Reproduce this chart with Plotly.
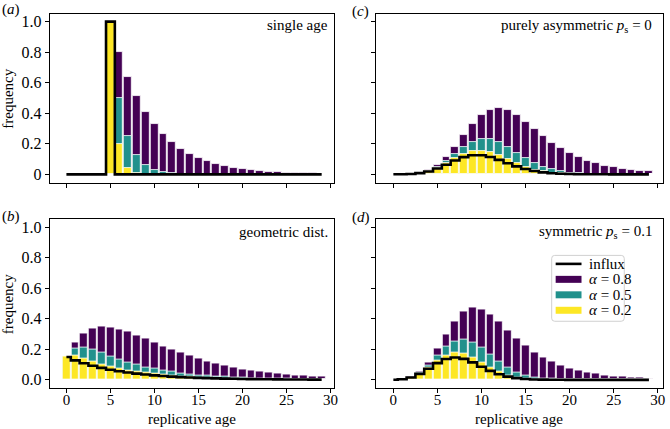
import plotly.graph_objects as go

ages = list(range(30))

# ---- panel (a): single age ----
a_influx = [0, 0, 0, 0, 0, 1.0] + [0] * 24
a_a08 = [0, 0, 0, 0, 0, 1.0, 0.8, 0.64, 0.512, 0.41, 0.328, 0.262, 0.21, 0.168, 0.134,
         0.107, 0.086, 0.069, 0.055, 0.044, 0.035, 0.028, 0.023, 0.018, 0.014, 0.012,
         0.009, 0.007, 0.006, 0.005]
a_a05 = [0, 0, 0, 0, 0, 1.0, 0.5, 0.25, 0.125, 0.063, 0.031, 0.016, 0.008, 0.004, 0.002,
         0.001] + [0] * 14
a_a02 = [0, 0, 0, 0, 0, 1.0, 0.2, 0.04, 0.008, 0.002, 0.0003] + [0] * 19

# ---- panel (b): geometric dist. ----
b_influx = [0.150, 0.1275, 0.1084, 0.0921, 0.0783, 0.0666, 0.0566, 0.0481, 0.0409, 0.0347,
            0.0295, 0.0251, 0.0213, 0.0181, 0.0154, 0.0131, 0.0111, 0.0095, 0.0080, 0.0068,
            0.0058, 0.0049, 0.0042, 0.0036, 0.0030, 0.0026, 0.0022, 0.0019, 0.0016, 0.0014]
b_a08 = [0.150, 0.2475, 0.3063, 0.3372, 0.348, 0.345, 0.3327, 0.3141, 0.2922, 0.2685,
         0.2442, 0.2205, 0.1977, 0.1764, 0.1566, 0.1386, 0.1218, 0.1068, 0.0936, 0.0819,
         0.0711, 0.0618, 0.0537, 0.0465, 0.0402, 0.0348, 0.030, 0.0261, 0.0225, 0.0192]
b_a05 = [0.150, 0.2025, 0.2096, 0.1969, 0.1768, 0.1549, 0.1341, 0.1151, 0.0984, 0.0840,
         0.0715, 0.0608, 0.0518, 0.0441, 0.0375, 0.0318, 0.0270, 0.0230, 0.0195, 0.0166,
         0.0141, 0.0120, 0.0102, 0.0087, 0.0074, 0.0063, 0.0053, 0.0045, 0.0039, 0.0033]
b_a02 = [0.150, 0.1575, 0.1399, 0.1201, 0.1023, 0.0870, 0.0740, 0.0629, 0.0535, 0.0454,
         0.0386, 0.0328, 0.0279, 0.0237, 0.0202, 0.0171, 0.0146, 0.0124, 0.0105, 0.0090,
         0.0076, 0.0065, 0.0055, 0.0047, 0.0040, 0.0034, 0.0029, 0.0024, 0.0021, 0.0018]

# ---- panel (c): purely asymmetric p_s = 0 ----
c_influx = [0.00005, 0.0005, 0.0023, 0.0076, 0.0189, 0.0378, 0.0631, 0.0901, 0.1126, 0.1251,
            0.1251, 0.1137, 0.0948, 0.0729, 0.0521, 0.0347, 0.0217, 0.0128, 0.0071, 0.0037,
            0.0019, 0.0009, 0.0004, 0.0002, 0.0001, 0, 0, 0, 0, 0]
c_a08 = [0.00005, 0.0005, 0.0027, 0.0097, 0.0267, 0.0592, 0.1105, 0.1785, 0.2554, 0.3294,
         0.3886, 0.4246, 0.4345, 0.4205, 0.3885, 0.3455, 0.2981, 0.2513, 0.2081, 0.1702,
         0.1381, 0.1114, 0.0895, 0.0718, 0.0575, 0.046, 0.0368, 0.0294, 0.0235, 0.0188]
c_a05 = [0.00005, 0.0005, 0.0025, 0.0088, 0.0233, 0.0495, 0.0878, 0.1340, 0.1796, 0.2149,
         0.2325, 0.2300, 0.2098, 0.1778, 0.1410, 0.1052, 0.0743, 0.0500, 0.0321, 0.0197,
         0.0118, 0.0068, 0.0038, 0.0021, 0.0012, 0.0006, 0.0003, 0.0002, 0.0001, 0.0001]
c_a02 = [0.00005, 0.0005, 0.0024, 0.0080, 0.0205, 0.0419, 0.0715, 0.1044, 0.1335, 0.1518,
         0.1555, 0.1448, 0.1238, 0.0977, 0.0716, 0.0490, 0.0315, 0.0191, 0.0109, 0.0059,
         0.0031, 0.0015, 0.0007, 0.0003, 0.0001, 0, 0, 0, 0, 0]

# ---- panel (d): symmetric p_s = 0.1 ----
d_influx = [0.0006, 0.0041, 0.0156, 0.0389, 0.0729, 0.1094, 0.1367, 0.1465, 0.1373, 0.1144,
            0.0858, 0.0585, 0.0366, 0.0211, 0.0113, 0.0057, 0.0026, 0.0012, 0.0005, 0.0002,
            0.0001, 0, 0, 0, 0, 0, 0, 0, 0, 0]
d_a08 = [0.0006, 0.0046, 0.0193, 0.0543, 0.1163, 0.2024, 0.2986, 0.3854, 0.4456, 0.4709,
         0.4625, 0.4285, 0.3794, 0.3246, 0.2710, 0.2225, 0.1806, 0.1457, 0.1171, 0.0939,
         0.0752, 0.0602, 0.0481, 0.0385, 0.0308, 0.0246, 0.0197, 0.0158, 0.0126, 0.0101]
d_a05 = [0.0006, 0.0044, 0.0178, 0.0478, 0.0968, 0.1578, 0.2156, 0.2543, 0.2645, 0.2466,
         0.2091, 0.1631, 0.1181, 0.0802, 0.0514, 0.0314, 0.0183, 0.0104, 0.0057, 0.0030,
         0.0016, 0.0008, 0.0004, 0.0002, 0.0001, 0, 0, 0, 0, 0]
d_a02 = [0.0006, 0.0042, 0.0164, 0.0422, 0.0813, 0.1257, 0.1618, 0.1789, 0.1731, 0.1490,
         0.1156, 0.0816, 0.0529, 0.0317, 0.0176, 0.0092, 0.0044, 0.0021, 0.0009, 0.0004,
         0.0002, 0.0001, 0, 0, 0, 0, 0, 0, 0, 0]

yticks = [0, 0.2, 0.4, 0.6, 0.8, 1.0]
yticktext_a = ["0", "0.2", "0.4", "0.6", "0.8", "1.0"]
yticktext_b = ["0.0", "0.2", "0.4", "0.6", "0.8", "1.0"]
xticks = [0, 5, 10, 15, 20, 25, 30]

legend_labels = ["influx", "<i>α</i> = 0.8", "<i>α</i> = 0.5", "<i>α</i> = 0.2"]

PURPLE = "#440154"
TEAL = "#21918c"
YELLOW = "#fde725"
FONT = "Liberation Serif"
W, H = 670, 429

panels = [
    ("x", "y", a_influx, a_a08, a_a05, a_a02),
    ("x2", "y2", c_influx, c_a08, c_a05, c_a02),
    ("x3", "y3", b_influx, b_a08, b_a05, b_a02),
    ("x4", "y4", d_influx, d_a08, d_a05, d_a02),
]

fig = go.Figure()
for xa, ya, inf, v8, v5, v2 in panels:
    for vals, col, name in [(v8, PURPLE, legend_labels[1]),
                            (v5, TEAL, legend_labels[2]),
                            (v2, YELLOW, legend_labels[3])]:
        fig.add_trace(go.Bar(x=ages, y=vals, width=0.88, name=name,
                             marker=dict(color=col, line=dict(color="white", width=0.8)),
                             showlegend=False, xaxis=xa, yaxis=ya))
    fig.add_trace(go.Scatter(x=ages, y=inf, mode="lines", name=legend_labels[0],
                             line=dict(shape="hvh", color="black", width=2.6),
                             showlegend=False, xaxis=xa, yaxis=ya))

xa_dom_left = [50 / W, 336 / W]
xa_dom_right = [378 / W, 667 / W]
ya_dom_top = [1 - 182 / H, 1 - 13 / H]
ya_dom_bot = [1 - 388 / H, 1 - 219 / H]

axis_common = dict(showline=True, linecolor="black", linewidth=1.2, mirror=True,
                   ticks="outside", ticklen=4, tickwidth=1.2, tickcolor="black",
                   showgrid=False, zeroline=False)

def xax(dom, rng, labels, anchor):
    return dict(domain=dom, range=rng, tickvals=xticks, showticklabels=labels,
                anchor=anchor, ticklabelstandoff=-6,
                tickfont=dict(family=FONT, size=15, color="black"), **axis_common)

def yax(dom, labels, text, anchor):
    return dict(domain=dom, range=[-0.054, 1.05], tickvals=yticks, ticktext=text,
                showticklabels=labels, anchor=anchor,
                tickfont=dict(family=FONT, size=16, color="black"), **axis_common)

fig.update_layout(
    width=W, height=H, margin=dict(l=0, r=0, t=0, b=0),
    plot_bgcolor="white", paper_bgcolor="white",
    barmode="overlay", bargap=0, showlegend=False,
    font=dict(family=FONT, size=15, color="black"),
    xaxis=xax(xa_dom_left, [-1.9, 30.4], False, "y"),
    yaxis=yax(ya_dom_top, True, yticktext_a, "x"),
    xaxis2=xax(xa_dom_right, [-2.0, 30.6], False, "y2"),
    yaxis2=yax(ya_dom_top, False, yticktext_a, "x2"),
    xaxis3=xax(xa_dom_left, [-1.9, 30.4], True, "y3"),
    yaxis3=yax(ya_dom_bot, True, yticktext_b, "x3"),
    xaxis4=xax(xa_dom_right, [-2.0, 30.6], True, "y4"),
    yaxis4=yax(ya_dom_bot, False, yticktext_b, "x4"),
)

def ann(text, x, y, xanchor="center", angle=0, size=15):
    fig.add_annotation(text=text, x=x / W, y=1 - y / H, xref="paper", yref="paper",
                       xanchor=xanchor, yanchor="middle", showarrow=False,
                       textangle=angle, font=dict(family=FONT, size=size, color="black"))

ann("(<i>a</i>)", 0, 9, "left")
ann("(<i>c</i>)", 352, 11, "left")
ann("(<i>b</i>)", 0, 216, "left")
ann("(<i>d</i>)", 352, 217, "left")
ann("single age", 332, 24, "right")
ann("geometric dist.", 332, 232, "right")
ann("purely asymmetric <i>p</i><sub>s</sub> = 0", 658, 25, "right")
ann("symmetric <i>p</i><sub>s</sub> = 0.1", 658, 232, "right")
ann("frequency", 8, 98, angle=-90)
ann("frequency", 8, 304, angle=-90)
ann("replicative age", 193, 418.5)
ann("replicative age", 522.5, 418.5)

# ---- legend box (panel d), drawn in paper pixels ----
def px(x):
    return x / W

def py(y):
    return 1 - y / H

lx0, lx1, ly0, ly1, r = 555, 628, 255, 321, 3
fig.add_shape(type="path", xref="paper", yref="paper",
              path=(f"M {px(lx0 + r)},{py(ly0)} L {px(lx1 - r)},{py(ly0)} "
                    f"Q {px(lx1)},{py(ly0)} {px(lx1)},{py(ly0 + r)} "
                    f"L {px(lx1)},{py(ly1 - r)} Q {px(lx1)},{py(ly1)} {px(lx1 - r)},{py(ly1)} "
                    f"L {px(lx0 + r)},{py(ly1)} Q {px(lx0)},{py(ly1)} {px(lx0)},{py(ly1 - r)} "
                    f"L {px(lx0)},{py(ly0 + r)} Q {px(lx0)},{py(ly0)} {px(lx0 + r)},{py(ly0)} Z"),
              fillcolor="white", line=dict(color="#d0d0d0", width=1), layer="above")
row_y = [263.5, 279, 294.5, 310]
fig.add_shape(type="line", xref="paper", yref="paper",
              x0=px(559), x1=px(585), y0=py(row_y[0]), y1=py(row_y[0]),
              line=dict(color="black", width=2.6), layer="above")
for yy, col in zip(row_y[1:], [PURPLE, TEAL, YELLOW]):
    fig.add_shape(type="rect", xref="paper", yref="paper",
                  x0=px(559), x1=px(585), y0=py(yy - 3.5), y1=py(yy + 3.5),
                  fillcolor=col, line=dict(width=0), layer="above")
for yy, lab in zip(row_y, legend_labels):
    ann(lab, 591, yy, "left")

fig.write_html("out.html", config={"displayModeBar": False},
               post_script="document.body.style.margin='0px';")
